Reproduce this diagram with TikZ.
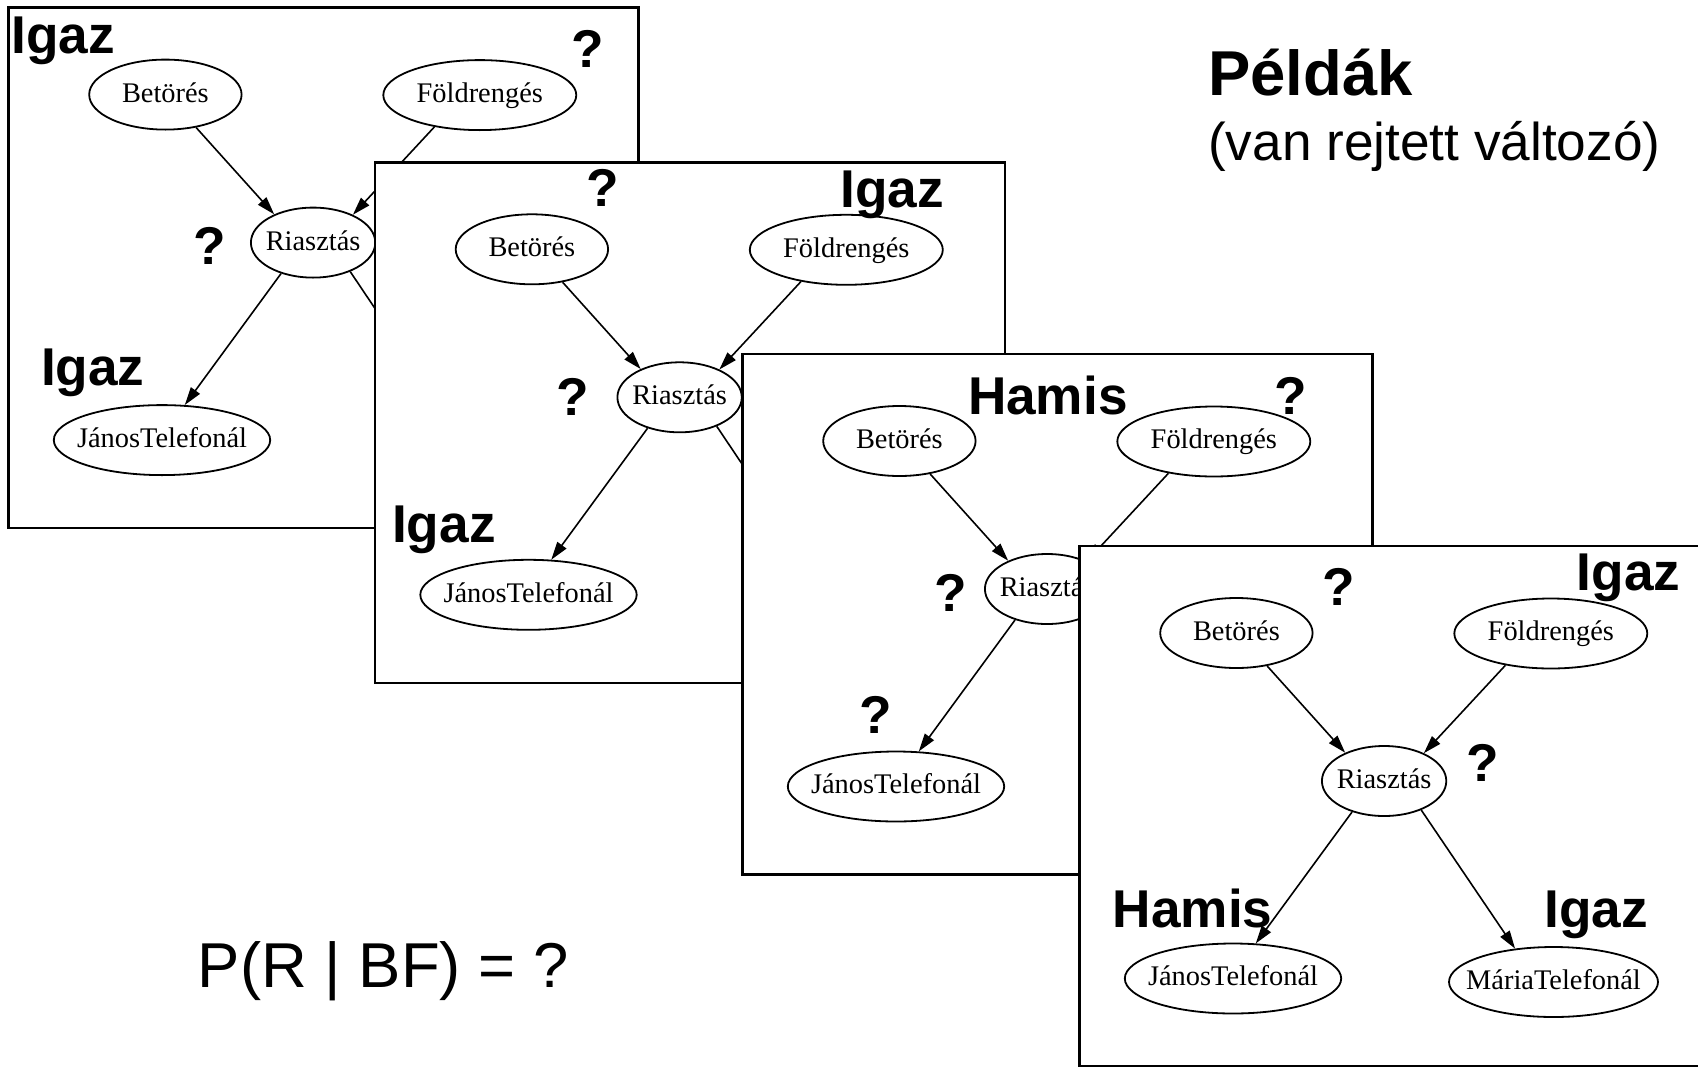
\documentclass[tikz,border=0pt]{standalone}
\usepackage{fontspec}
\setmainfont{Liberation Serif}
\newfontfamily\helv{Liberation Sans}
\usetikzlibrary{arrows.meta,shapes.geometric}

% node text is boxed with zero width so that the ellipse keeps its given size
\newcommand\nodetext[1]{\makebox[0pt]{#1}}

\tikzset{
  panel/.style={draw=black, line width=1.2pt, fill=white},
  var/.style={ellipse, draw=black, line width=0.9pt, inner sep=0pt,
    minimum height=35pt, text height=9pt, text depth=1.6pt,
    font=\fontsize{14.2}{17}\selectfont},
  edge/.style={line width=0.8pt, -{Triangle[length=9pt,width=5.5pt]}},
  tag/.style={inner sep=0pt, anchor=base west,
    font=\helv\bfseries\fontsize{26.6}{30}\selectfont},
  qm/.style={inner sep=0pt, anchor=base,
    font=\helv\bfseries\fontsize{26.6}{30}\selectfont},
}

% one frame of the alarm network: box, four nodes, three edges
% #1 = suffix of the node names
\newcommand\bnpanel[1]{%
  \draw[panel] (0,0) rectangle (630,520.6);
  \node[var, minimum width=76.2pt] (b#1) at (157,87) {\nodetext{Betörés}};
  \node[var, minimum width=96.5pt] (f#1) at (471.4,87.5) {\nodetext{Földrengés}};
  \node[var, minimum width=62.2pt] (r#1) at (304.7,235) {\nodetext{Riasztás}};
  \node[var, minimum width=108.2pt] (j#1) at (153.6,432.5) {\nodetext{JánosTelefonál}};
  \draw[edge] (b#1.-47.8) -- (r#1.144);
  \draw[edge] (f#1.-145) -- (r#1.35.5);
  \draw[edge] (r#1.-136.4) -- (j#1.57);
}

\begin{document}
\begin{tikzpicture}[x=0.5pt, y=-0.5pt]
  \useasboundingbox (0,0) rectangle (1698,1066);
  \clip (0,0) rectangle (1698,1066);
  \fill[white] (0,0) rectangle (1698,1066);

  % title
  \node[inner sep=0pt, anchor=base west, font=\helv\bfseries\fontsize{31.7}{36}\selectfont]
    (title) at (1208,95) {Példák};
  \node[inner sep=0pt, anchor=base west, font=\helv\fontsize{26.6}{32}\selectfont]
    (subtitle) at (1207.7,160) {(van rejtett változó)};

  % query
  \node[inner sep=0pt, anchor=base west, font=\helv\fontsize{31.7}{38}\selectfont]
    (query) at (197.5,987) {P(R | BF) = ?};

  % frame 1
  \begin{scope}[shift={(8.4,7.6)}]
    \bnpanel{1}
    \coordinate (m1) at (434.4,401.8);
    \draw[edge] (r1.-38.5) -- (m1);
    \node[tag] (t1a) at (2.8,46.3) {Igaz};
    \node[qm] (q1a) at (579.8,59.7) {?};
    \node[qm] (q1b) at (201.6,256.7) {?};
    \node[tag] (t1b) at (32.3,377.5) {Igaz};
  \end{scope}

  % frame 2
  \begin{scope}[shift={(374.9,162.3)}]
    \bnpanel{2}
    \coordinate (m2) at (434.4,401.8);
    \draw[edge] (r2.-38.5) -- (m2);
    \node[qm] (q2a) at (228,43.7) {?};
    \node[tag] (t2a) at (465.1,44.9) {Igaz};
    \node[qm] (q2b) at (197.8,253.1) {?};
    \node[tag] (t2b) at (16.9,380.5) {Igaz};
  \end{scope}

  % frame 3
  \begin{scope}[shift={(742.4,354)}]
    \bnpanel{3}
    \coordinate (m3) at (434.4,401.8);
    \draw[edge] (r3.-38.5) -- (m3);
    \node[tag] (t3a) at (225.2,60.9) {Hamis};
    \node[qm] (q3a) at (548.6,60.1) {?};
    \node[qm] (q3b) at (208.1,257.6) {?};
    \node[qm] (q3c) at (133.1,379.7) {?};
  \end{scope}

  % frame 4
  \begin{scope}[shift={(1079.4,546)}]
    \bnpanel{4}
    \node[var, minimum width=104.5pt] (m4) at (474.1,436) {\nodetext{MáriaTelefonál}};
    \draw[edge] (r4.-38.5) -- (m4.139.3);
    \node[qm] (q4a) at (259.5,59.4) {?};
    \node[tag] (t4a) at (497.1,44) {Igaz};
    \node[qm] (q4b) at (403,235.5) {?};
    \node[tag] (t4b) at (33,381.5) {Hamis};
    \node[tag] (t4c) at (464.5,381.5) {Igaz};
  \end{scope}
\end{tikzpicture}
\end{document}
